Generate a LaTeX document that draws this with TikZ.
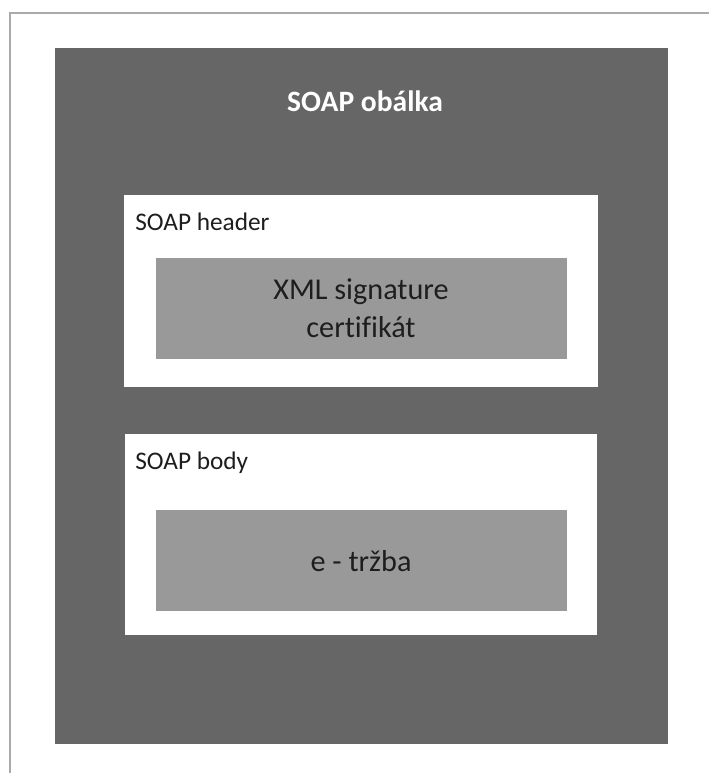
\documentclass[tikz,border=0pt]{standalone}
\usepackage{fontspec}
\setmainfont{Carlito}[Ligatures=NoCommon]
\usetikzlibrary{calc}
\definecolor{envfill}{RGB}{102,102,102}
\definecolor{partfill}{RGB}{153,153,153}
\definecolor{framegray}{RGB}{170,170,170}
\definecolor{labtext}{RGB}{30,30,30}
\tikzset{
    titlelab/.style={
        font=\fontsize{21}{25}\selectfont\bfseries, text=white
    },
    partlab/.style={
        font=\fontsize{18}{21}\selectfont, text=labtext, anchor=west, inner sep=0pt
    },
    innerlab/.style={
        font=\fontsize{21.5}{27}\selectfont, text=labtext, align=center
    }
}
\begin{document}
\begin{tikzpicture}[x=0.025cm,y=-0.025cm,line join=miter]

% --- page ---
    \useasboundingbox (0,0) rectangle (709,773);
    \fill[white] (0,0) rectangle (709,773);
    \draw[framegray, line width=2pt] (10,773) -- (10,13) -- (709,13);

% --- geometry ---
    \coordinate (envNW) at (55,48);   % envelope corners
    \coordinate (envSE) at (668,744);

% envelope
    \fill[envfill] (envNW) rectangle (envSE);

% header part
    \fill[white] (124,195) rectangle (598,387);
    \fill[partfill] (156,258) rectangle (567,359);

% body part
    \fill[white] (125,434) rectangle (597,635);
    \fill[partfill] (156,510) rectangle (567,611);

% labels
    \node[titlelab] (obalka) at (365,101) {SOAP obálka};
    \node[partlab] (header) at (135,222) {SOAP header};
    \node[partlab] (body) at (135,463) {SOAP body};
    \node[innerlab] (signature) at (361,308) {XML signature\\certifikát};
    \node[innerlab] (trzba) at (361,561) {e - tržba};

\end{tikzpicture}
\end{document}
